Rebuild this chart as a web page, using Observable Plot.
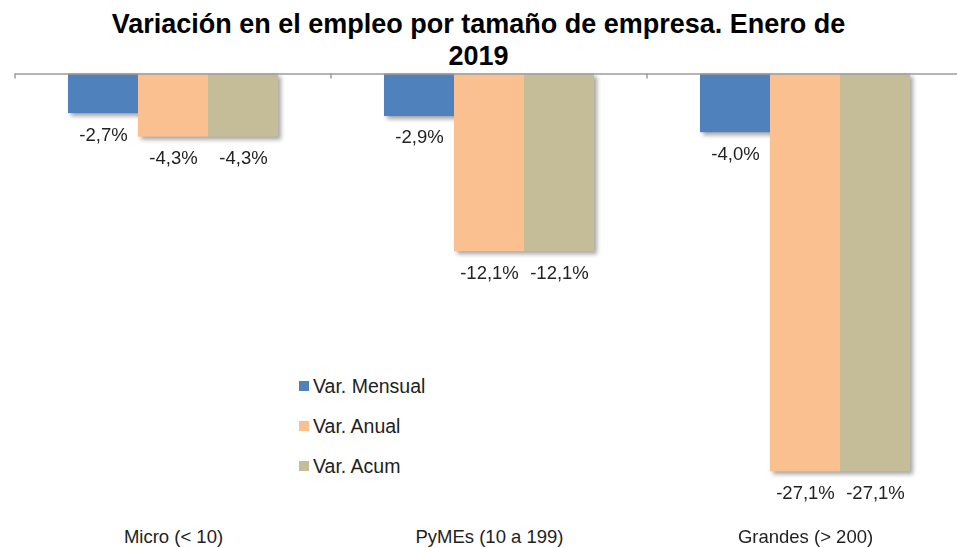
<!DOCTYPE html>
<html>
<head>
<meta charset="utf-8">
<script src="https://cdn.jsdelivr.net/npm/d3@7"></script>
<script src="https://cdn.jsdelivr.net/npm/@observablehq/plot@0.6"></script>
<style>
  html, body { margin: 0; padding: 0; background: #fff; }
  body { width: 957px; height: 548px; position: relative; overflow: hidden; font-family: "Liberation Sans", Arial, sans-serif; }
  #title { height: 70px; box-sizing: border-box; padding-top: 8px; font-size: 27px; line-height: 32px; font-weight: bold; text-align: center; color: #000; }
  #title span { display: inline-block; max-width: 760px; }
  #chart { position: absolute; left: 0; top: 70px; }
  #legend { position: absolute; left: 299px; top: 366px; font-size: 19.5px; color: #222; }
  #legend .row { display: flex; align-items: center; height: 40px; }
  #legend .sw { width: 10px; height: 10px; margin-right: 4px; }
</style>
</head>
<body>
<div id="title"><span>Variación en el empleo por tamaño de empresa. Enero de 2019</span></div>
<div id="chart"></div>
<div id="legend"></div>
<script>
const categories = ["Micro (< 10)", "PyMEs (10 a 199)", "Grandes (> 200)"];
const series = ["Var. Mensual", "Var. Anual", "Var. Acum"];
const colors = ["#4F81BD", "#FAC090", "#C4BD97"];
const mensual = [-2.7, -2.9, -4.0];
const anual = [-4.3, -12.1, -27.1];
const acum = [-4.3, -12.1, -27.1];

const valuesBySeries = [mensual, anual, acum];
const data = [];
categories.forEach((c, i) => {
  series.forEach((s, j) => data.push({cat: c, series: s, value: valuesBySeries[j][i]}));
});
const fmt = v => v.toFixed(1).replace(".", ",") + "%";

const W = 957, H = 478;
const plot = Plot.plot({
  width: W,
  height: H,
  marginTop: 3.5,
  marginBottom: 0,
  marginLeft: 0,
  marginRight: 0,
  style: {fontFamily: '"Liberation Sans", Arial, sans-serif', background: "transparent"},
  fx: {domain: categories, range: [15, 963], padding: 0, axis: null},
  x: {domain: series, paddingInner: 0, paddingOuter: 0.74, axis: null},
  y: {domain: [-30, 0], range: [443.9, 3.5], axis: null},
  color: {domain: series, range: colors},
  marks: [
    Plot.barY(data, {fx: "cat", x: "series", y: "value", fill: "series"}),
    Plot.ruleY([0], {stroke: "#9c9c9c", strokeWidth: 1.5}),
    Plot.text(data, {fx: "cat", x: "series", y: "value", text: d => fmt(d.value), dy: 21, lineAnchor: "middle", fontSize: 18.5, fill: "#222"}),
    Plot.text(categories, {fx: d => d, text: d => d, frameAnchor: "bottom", lineAnchor: "middle", dy: -11, fontSize: 18.5, fill: "#222"})
  ]
});
document.getElementById("chart").appendChild(plot);

// drop shadow on bars
const svg = d3.select(plot);
svg.selectAll('g[aria-label="bar"]').style("filter", "drop-shadow(3px 3px 2px rgba(0,0,0,0.35))");

// category boundary tick marks on the axis line
const fxs = plot.scale("fx");
const ys = plot.scale("y");
const y0 = ys.apply(0);
const bounds = categories.map(c => fxs.apply(c));
svg.append("g").selectAll("line").data(bounds).join("line")
  .attr("x1", d => d).attr("x2", d => d)
  .attr("y1", y0).attr("y2", y0 + 5)
  .attr("stroke", "#9c9c9c").attr("stroke-width", 1.5);

// legend
const leg = d3.select("#legend");
series.forEach((s, i) => {
  const row = leg.append("div").attr("class", "row");
  row.append("div").attr("class", "sw").style("background", colors[i]);
  row.append("span").text(s);
});
</script>
</body>
</html>
